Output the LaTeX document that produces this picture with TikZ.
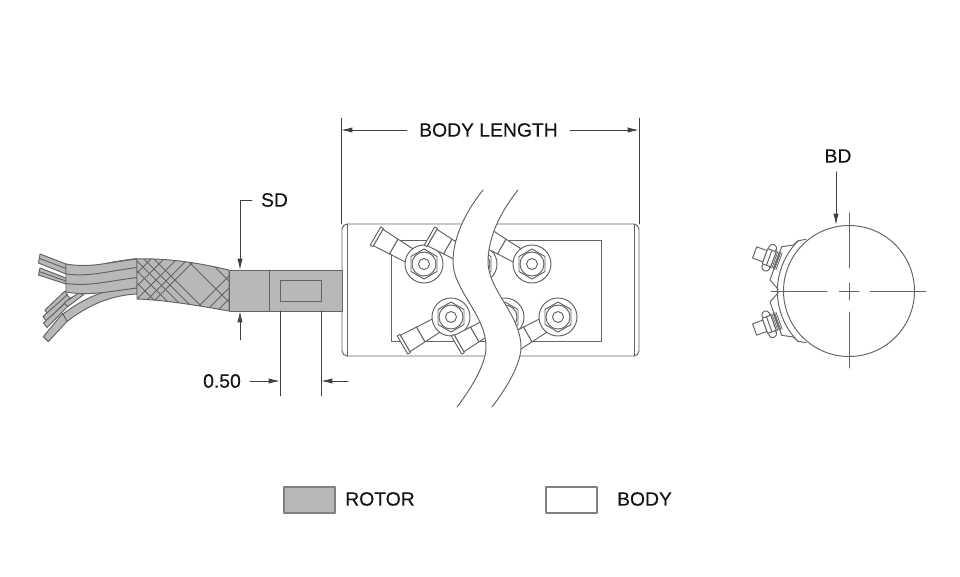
\documentclass[tikz,border=0pt]{standalone}
\usepackage{fontspec}
\setmainfont[FakeBold=0.25]{Liberation Sans}
\usetikzlibrary{arrows.meta}
\definecolor{rotorgray}{RGB}{184,184,184}
\definecolor{linegray}{RGB}{100,100,100}
\definecolor{textblack}{RGB}{20,20,20}
\tikzset{
  part/.style={draw=linegray,line width=0.55pt},
  wire/.style={part,fill=rotorgray},
  thin part/.style={draw=linegray,line width=0.45pt},
  dimline/.style={draw=black!75,line width=0.5pt},
  dimarrow/.style={dimline,-{Latex[length=6.5pt,width=3pt]}},
  dimlabel/.style={text=textblack,font=\fontsize{11}{13}\selectfont,inner sep=5pt},
  legendbox/.style={draw=black!50,line width=0.6pt,minimum width=1.02cm,minimum height=0.52cm,inner sep=0pt}
}
\begin{document}
\begin{tikzpicture}[line cap=round,line join=round,x=0.02cm,y=-0.02cm]
    \useasboundingbox (0,0) rectangle (960,576);
    % body
    \draw[part,rounded corners=3pt] (342,224) rectangle (639,356);
    \draw[part] (347,224) -- (347,356);
    \draw[part] (634,224) -- (634,356);
    \draw[part] (391,240) rectangle (601,341);
    % lugs and terminals
    \foreach \px/\py/\ang in {424/264/150,478/264/150,532/264/150,451/317/210,505/317/210,558/317/210} {
      \begin{scope}[shift={(\px,\py)},rotate=\ang]
        \draw[part,fill=white] (15,-7.5) -- (35,-8.5) -- (35,8.5) -- (15,7.5) -- cycle;
        \draw[part,fill=white] (35,-8.5) -- (53,-9.5) -- (53,9.5) -- (35,8.5) -- cycle;
        \draw[part,fill=white] (53,-10.5) -- (56,-10.5) -- (56,10.5) -- (53,10.5) -- cycle;
      \end{scope}
      \draw[part,fill=white] (\px,\py) circle (19);
      \begin{scope}[shift={(\px,\py)}]
        \draw[part] (90:15) -- (150:15) -- (210:15) -- (270:15) -- (330:15) -- (30:15) -- cycle;
      \end{scope}
      \draw[part] (\px,\py) circle (12);
      \draw[part] (\px,\py) circle (5.5);
    }
    % break
    \fill[white] (483,190) .. controls (463,215) and (453,240) .. (453,262) .. controls (453,290) and (486,315) .. (486,347) .. controls (486,365) and (470,390) .. (457,407)
      -- (492,407) .. controls (505,390) and (521,365) .. (521,347) .. controls (521,315) and (488,290) .. (488,262) .. controls (488,240) and (498,215) .. (518,190) -- cycle;
    \draw[part] (483,190) .. controls (463,215) and (453,240) .. (453,262) .. controls (453,290) and (486,315) .. (486,347) .. controls (486,365) and (470,390) .. (457,407);
    \draw[part] (518,190) .. controls (498,215) and (488,240) .. (488,262) .. controls (488,290) and (521,315) .. (521,347) .. controls (521,365) and (505,390) .. (492,407);
    % wires
    \draw[wire] (40,254) -- (66,264) -- (66,274) -- (38.5,263) -- cycle;
    \draw[part] (39.5,258.5) -- (66,268.5);
    \draw[wire] (40,268) -- (66,278) -- (66,284) -- (38.5,275) -- cycle;
    \draw[part] (39,271.5) -- (66,281);
    \draw[wire] (65,291) -- (45,310) -- (47.5,314) -- (67.5,295) -- cycle;
    \draw[wire] (67,295) -- (43,316.5) -- (46.5,321) -- (70,298) -- cycle;
    \draw[wire] (72,297) -- (43.5,323) -- (47,327.5) -- (77,297) -- cycle;
    \draw[wire] (64.3,302.7) -- (67.7,306.7) -- (84,294.3) -- (78.3,293.3) -- cycle;
    \draw[wire] (62.7,313.3) -- (43.3,336.7) -- (48.3,341.7) -- (67.3,321) -- cycle;
    \draw[wire] (137,287.5) .. controls (112,287) and (88,295) .. (63,314) -- (67,321.5) .. controls (88,305) and (112,295) .. (137,294) -- cycle;
    \draw[wire] (98,265.5) .. controls (110,262) and (125,260) .. (137,258.5) -- (137,262) -- cycle;
    \draw[wire] (66,264) .. controls (90,268) and (105,263) .. (137,259) -- (137,288) .. controls (105,292) and (90,296) .. (66,292) -- cycle;
    \foreach \yl/\yr in {274/267.5,283.5/277.5} {
      \draw[part] (66,\yl) .. controls (90,{\yl+3}) and (105,{\yr+4}) .. (137,\yr);
    }
    % braid
    \draw[wire] (137,259) .. controls (165,258) and (195,262) .. (229,270) -- (229,311) .. controls (195,305) and (165,300) .. (137,299) -- cycle;
    \begin{scope}
      \clip (137,259) .. controls (165,258) and (195,262) .. (229,270) -- (229,311) .. controls (195,305) and (165,300) .. (137,299) -- cycle;
      \foreach \c in {-146,-134,-124,-115,-105,-73,-52} {
        \draw[thin part] (137,{137-\c}) -- (229,{229-\c});
      }
      \foreach \s in {410,423,436,447,455,505,517,528} {
        \draw[thin part] (137,{\s-137}) -- (229,{\s-229});
      }
    \end{scope}
    % rotor
    \draw[wire] (229,270) rectangle (342,311);
    \draw[part] (269,270) -- (269,311);
    \draw[part] (280,280) rectangle (321,301);
    % end view
    \draw[part] (806,239.3) -- (798.3,240.7) -- (793.3,245) -- (781.7,246.7) -- (770,280) -- (778.3,289.5);
    \draw[part] (806,342.7) -- (798.3,341.3) -- (793.3,337) -- (781.7,335.3) -- (770,302) -- (778.3,292.5);
    \draw[part] (798.3,240.7) arc[start angle=135,end angle=225,radius=1.428cm];
    \draw[part] (849,291) circle (65.5);
    \foreach \py/\ang in {261.7/160,320.3/200} {
      \begin{scope}[shift={(780,\py)},rotate=\ang]
        \foreach \u in {1,2.5,4,5.5,7} {
          \draw[thin part] (\u,-9) -- (\u,9);
        }
        \draw[part,fill=white] (16,-6) rectangle (27,6);
        \draw[part,fill=white] (11.5,-10) circle (4);
        \draw[part,fill=white] (11.5,10) circle (4);
        \draw[part,fill=white] (7,-8) rectangle (16,8);
        \draw[part] (11.5,-8) -- (11.5,8);
      \end{scope}
    }
    \draw[part] (849,213) -- (849,268);
    \draw[part] (849,283) -- (849,300);
    \draw[part] (849,312) -- (849,368);
    \draw[part] (771,291) -- (827,291);
    \draw[part] (839,291) -- (859,291);
    \draw[part] (870,291) -- (926,291);
    % dimensions
    \coordinate (bodyleft) at (341,130);
    \coordinate (bodyright) at (639,130);
    \coordinate (sdtop) at (240,270);
    \coordinate (sdbottom) at (240,311);
    \coordinate (sdfoot) at (240,340);
    \coordinate (slotleft) at (280,381);
    \coordinate (slotright) at (321,381);
    \coordinate (slotend) at (348,381);
    \coordinate (bdtip) at (836,225);
    \node[dimlabel,inner sep=6.8pt] (bodylabel) at (488.5,130) {BODY LENGTH};
    \node[dimlabel] (sdlabel) at (274.5,200) {SD};
    \node[dimlabel] (slotlabel) at (222,381) {0.50};
    \node[dimlabel] (bdlabel) at (838,156) {BD};
    \draw[dimline] (341,118) -- (341,224);
    \draw[dimline] (639,118) -- (639,224);
    \draw[dimarrow] (bodylabel.west) -- (bodyleft);
    \draw[dimarrow] (bodylabel.east) -- (bodyright);
    \draw[dimarrow] (sdlabel.west) -| (sdtop);
    \draw[dimarrow] (sdfoot) -- (sdbottom);
    \draw[dimline] (280,311) -- (280,396);
    \draw[dimline] (321,311) -- (321,396);
    \draw[dimarrow] (slotlabel.east) -- (slotleft);
    \draw[dimarrow] (slotend) -- (slotright);
    \draw[dimarrow] (bdlabel.south -| bdtip) -- (bdtip);
    % legend
    \node[legendbox,fill=rotorgray] (rotorbox) at (309.5,500) {};
    \node[legendbox,fill=white] (bodybox) at (571.5,500) {};
    \node[dimlabel,inner sep=0pt] (rotorlabel) at (380,499) {ROTOR};
    \node[dimlabel,inner sep=0pt] (bodyname) at (644.5,499) {BODY};
\end{tikzpicture}
\end{document}
